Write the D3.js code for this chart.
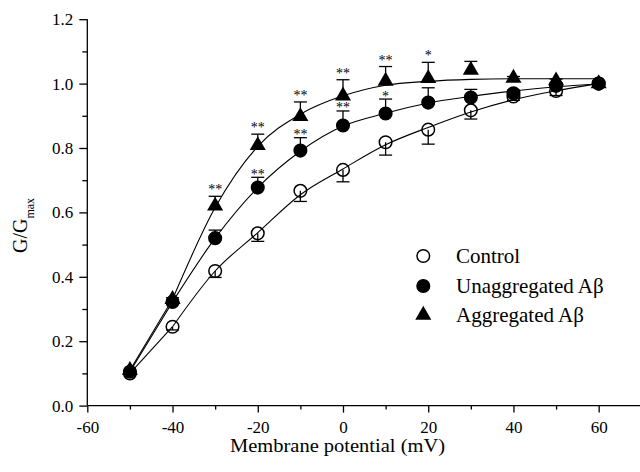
<!DOCTYPE html>
<html>
<head>
<meta charset="utf-8">
<script src="https://cdn.jsdelivr.net/npm/d3@7"></script>
<style>
  body { margin: 0; background: #fff; }
  svg text { font-family: "Liberation Serif", "Times New Roman", "DejaVu Serif", serif; }
</style>
</head>
<body>
<svg id="chart" width="640" height="472"></svg>
<script>
// #region Data
const voltages = [-50, -40, -30, -20, -10, 0, 10, 20, 30, 40, 50, 60];

const control = [0.1, 0.245, 0.418, 0.535, 0.667, 0.732, 0.818, 0.857, 0.917, 0.96, 0.977, 1.0];
const controlErr = [0, 0.01, 0.02, 0.025, 0.033, 0.037, 0.04, 0.045, 0.027, 0.012, 0.014, 0];
const controlFit = [0.1, 0.245, 0.418, 0.537, 0.655, 0.735, 0.81, 0.864, 0.912, 0.95, 0.978, 1.0];

const unaggregated = [0.105, 0.322, 0.52, 0.677, 0.792, 0.87, 0.907, 0.941, 0.957, 0.97, 0.993, 1.0];
const unaggregatedErr = [0, 0.005, 0.025, 0.032, 0.04, 0.045, 0.045, 0.046, 0.025, 0.01, 0.01, 0];
const unaggregatedFit = [0.105, 0.322, 0.52, 0.677, 0.79, 0.868, 0.908, 0.94, 0.96, 0.977, 0.99, 0.999];
const unaggregatedStars = ["", "", "", "**", "**", "**", "*", "", "", "", "", ""];

const aggregated = [0.11, 0.33, 0.62, 0.808, 0.898, 0.962, 1.008, 1.016, 1.042, 1.017, 1.009, 1.0];
const aggregatedErr = [0, 0.005, 0.03, 0.035, 0.045, 0.05, 0.045, 0.05, 0.027, 0.005, 0.005, 0];
const aggregatedFit = [0.11, 0.33, 0.615, 0.805, 0.905, 0.962, 0.995, 1.007, 1.013, 1.015, 1.015, 1.015];
const aggregatedStars = ["", "", "**", "**", "**", "**", "**", "*", "", "", "", ""];

const legendLabels = ["Control", "Unaggregated A\u03b2", "Aggregated A\u03b2"];

const xMajorTicks = [-60, -40, -20, 0, 20, 40, 60];
const xMinorTicks = [-50, -30, -10, 10, 30, 50];
const yMajorTicks = [0, 0.2, 0.4, 0.6, 0.8, 1.0, 1.2];
const yMinorTicks = [0.1, 0.3, 0.5, 0.7, 0.9, 1.1];
// #endregion

const serif = "Liberation Serif, Times New Roman, DejaVu Serif, serif";
const svg = d3.select("#chart").attr("font-family", serif);

const x = d3.scaleLinear().domain([-60, 70]).range([87.3, 641.3]);
const y = d3.scaleLinear().domain([0, 1.2]).range([405.6, 19.2]);

// #region Axes
const xAxis = svg.append("g").attr("transform", `translate(0,${y(0)})`);
xAxis.call(
  d3.axisBottom(x).tickValues(xMajorTicks).tickSize(7).tickPadding(4)
    .tickFormat((d) => String(d))
);
xAxis.append("g").call(
  d3.axisBottom(x).tickValues(xMinorTicks).tickSize(4).tickFormat("")
).select(".domain").remove();
xAxis.select(".domain").attr("d", `M${x(-60)},0H${x(70)}`);

const yAxis = svg.append("g").attr("transform", `translate(${x(-60)},0)`);
yAxis.call(
  d3.axisLeft(y).tickValues(yMajorTicks).tickSize(8).tickPadding(6)
    .tickFormat(d3.format(".1f"))
);
yAxis.append("g").call(
  d3.axisLeft(y).tickValues(yMinorTicks).tickSize(5).tickFormat("")
).select(".domain").remove();
yAxis.select(".domain").attr("d", `M0,${y(0)}V${y(1.2)}`);

svg.selectAll("g").attr("font-family", serif);
svg.selectAll(".domain, .tick line").attr("stroke", "#000").attr("stroke-width", 1.3);
svg.selectAll(".tick text")
  .attr("font-size", 17)
  .attr("fill", "#000");
xAxis.selectAll(".tick text").attr("dy", "0.95em");

svg.append("text")
  .attr("x", 337.5)
  .attr("y", 452)
  .attr("text-anchor", "middle")
  .attr("font-size", 19)
  .attr("textLength", 215)
  .attr("lengthAdjust", "spacingAndGlyphs")
  .text("Membrane potential (mV)");

const yTitle = svg.append("text")
  .attr("transform", "translate(27,253) rotate(-90)")
  .attr("font-size", 20);
yTitle.append("tspan").text("G/G");
yTitle.append("tspan").attr("font-size", 12).attr("dy", 7).text("max");
// #endregion

// #region Series
const series = [
  { name: legendLabels[0], values: control, err: controlErr, fit: controlFit, dir: -1, stars: null, shape: "open" },
  { name: legendLabels[1], values: unaggregated, err: unaggregatedErr, fit: unaggregatedFit, dir: 1, stars: unaggregatedStars, starGap: 5.5, shape: "circle" },
  { name: legendLabels[2], values: aggregated, err: aggregatedErr, fit: aggregatedFit, dir: 1, stars: aggregatedStars, starGap: 9, shape: "triangle" },
];

const circleSym = d3.symbol().type(d3.symbolCircle).size(Math.PI * 6.3 * 6.3);
const triSym = d3.symbol().type(d3.symbolTriangle).size(112);

function drawMarker(g, shape) {
  if (shape === "triangle") {
    g.append("path").attr("d", triSym()).attr("fill", "#000");
  } else {
    g.append("path")
      .attr("d", circleSym())
      .attr("fill", shape === "open" ? "none" : "#000")
      .attr("stroke", "#000")
      .attr("stroke-width", 1.5);
  }
}

const lineLinear = d3.line().x((d) => x(d[0])).y((d) => y(d[1]));
const lineCurve = d3.line().x((d) => x(d[0])).y((d) => y(d[1])).curve(d3.curveMonotoneX);

// fitted lines
series.forEach((s) => {
  const pts = voltages.map((v, i) => [v, s.fit[i]]);
  svg.append("path").attr("d", lineLinear(pts.slice(0, 2)))
    .attr("fill", "none").attr("stroke", "#000").attr("stroke-width", 1.1);
  svg.append("path").attr("d", lineCurve(pts.slice(1)))
    .attr("fill", "none").attr("stroke", "#000").attr("stroke-width", 1.1);
});

// error bars
series.forEach((s) => {
  const g = svg.append("g").attr("stroke", "#000").attr("stroke-width", 1.3);
  voltages.forEach((v, i) => {
    if (!s.err[i]) return;
    const end = y(s.values[i] + s.dir * s.err[i]);
    g.append("line").attr("x1", x(v)).attr("x2", x(v))
      .attr("y1", y(s.values[i])).attr("y2", end);
    g.append("line").attr("x1", x(v) - 6.5).attr("x2", x(v) + 6.5)
      .attr("y1", end).attr("y2", end);
  });
});

// markers
series.forEach((s) => {
  voltages.forEach((v, i) => {
    const g = svg.append("g").attr("transform", `translate(${x(v)},${y(s.values[i])})`);
    drawMarker(g, s.shape);
  });
});

// significance stars
series.forEach((s) => {
  if (!s.stars) return;
  voltages.forEach((v, i) => {
    if (!s.stars[i]) return;
    svg.append("text")
      .attr("x", x(v))
      .attr("y", y(s.values[i] + s.err[i]) - s.starGap + 7)
      .attr("text-anchor", "middle")
      .attr("font-size", 14)
      .attr("fill", "#000")
      .text(s.stars[i]);
  });
});
// #endregion

// #region Legend
const legendRows = [256, 286, 315];
series.forEach((s, i) => {
  const g = svg.append("g").attr("transform", `translate(423.3,${legendRows[i]})`);
  drawMarker(g, s.shape);
  svg.append("text")
    .attr("x", 456)
    .attr("y", legendRows[i] + 7)
    .attr("font-size", 21)
    .text(s.name);
});
// #endregion
</script>
</body>
</html>
